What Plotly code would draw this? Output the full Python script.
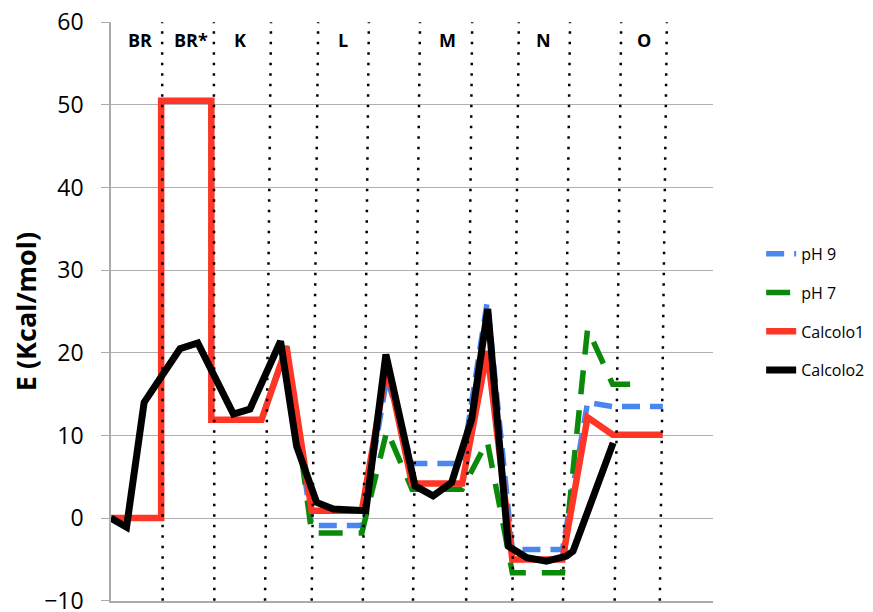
import plotly.graph_objects as go

# ---- data (reaction coordinate units, energies in kcal/mol) ----
x_ph9 = [0, 1, 1, 2, 2, 3, 3.5, 4, 5, 5.5, 6, 7, 7.5, 8, 9, 9.5, 10, 11]
y_ph9 = [0, 0, 50.5, 50.5, 11.9, 11.9, 20.5, -0.9, -0.9, 17.0, 6.6, 6.6, 26.2, -3.8, -3.8, 14.0, 13.5, 13.5]

x_ph7 = [0, 1, 1, 2, 2, 3, 3.5, 4, 5, 5.5, 6, 7, 7.5, 8, 9, 9.5, 10, 10.5]
y_ph7 = [0, 0, 50.5, 50.5, 11.9, 11.9, 20.8, -1.8, -1.8, 10.6, 3.5, 3.5, 9.3, -6.6, -6.6, 22.9, 16.2, 16.2]

x_calc1 = [0, 1, 1, 2, 2, 3, 3.5, 4, 5, 5.5, 6, 7, 7.5, 8, 9, 9.5, 10, 11]
y_calc1 = [0, 0, 50.5, 50.5, 11.9, 11.9, 20.7, 0.9, 0.9, 18.5, 4.2, 4.2, 20.2, -5.0, -5.0, 12.2, 10.1, 10.1]

x_calc2 = [0, 0.31, 0.66, 1.375, 1.73, 2.44, 2.77, 3.38, 3.70, 4.10, 4.43, 5.0, 5.08, 5.48,
           6.06, 6.42, 6.79, 7.19, 7.51, 7.92, 8.29, 8.68, 9.08, 9.21, 10.01]
y_calc2 = [0, -1.1, 14.0, 20.5, 21.2, 12.6, 13.2, 21.4, 8.7, 1.9, 1.1, 1.1, 0.9, 19.8,
           3.9, 2.7, 4.3, 12.0, 25.3, -3.4, -4.8, -5.2, -4.6, -4.0, 9.1]

# dotted separators (bottom and top x of each line)
sep_bottom = [1.03, 2.06, 3.07, 4.00, 5.02, 6.02, 7.08, 8.00, 9.01, 10.04, 10.94]
sep_top = [1.02, 2.05, 3.19, 4.13, 5.14, 6.16, 7.20, 8.13, 9.15, 10.17, 11.08]

state_labels = ["BR", "BR*", "K", "L", "M", "N", "O"]
state_x = [0.57, 1.59, 2.58, 4.62, 6.70, 8.62, 10.62]
state_y = 57.9

y_ticks = [-10, 0, 10, 20, 30, 40, 50, 60]

fig = go.Figure()
fig.add_trace(go.Scatter(x=x_ph9, y=y_ph9, mode="lines", name="pH 9", legendgroup="a",
                         line=dict(color="#4a86f0", width=5.5, dash="18px,10px")))
fig.add_trace(go.Scatter(x=x_ph7, y=y_ph7, mode="lines", name="pH 7", legendgroup="b",
                         line=dict(color="#0a890a", width=5.5, dash="24px,16px")))
fig.add_trace(go.Scatter(x=x_calc1, y=y_calc1, mode="lines", name="Calcolo1", legendgroup="c",
                         line=dict(color="#ff3526", width=6.5)))
fig.add_trace(go.Scatter(x=x_calc2, y=y_calc2, mode="lines", name="Calcolo2", legendgroup="d",
                         line=dict(color="#000000", width=7)))

for xb, xt in zip(sep_bottom, sep_top):
    fig.add_shape(type="line", x0=xb, x1=xt, y0=-10, y1=60, xref="x", yref="y",
                  layer="above", line=dict(color="black", width=2.5, dash="2.5px,8px"))

for lab, lx in zip(state_labels, state_x):
    fig.add_annotation(x=lx, y=state_y, text=lab, showarrow=False,
                       font=dict(family="Open Sans", size=18, color="black", weight="bold"))

fig.update_layout(
    width=873, height=612,
    margin=dict(l=111, r=160, t=22, b=11, autoexpand=False),
    paper_bgcolor="white", plot_bgcolor="white",
    font=dict(family="Open Sans", color="black"),
    legend=dict(x=1.08, y=0.629, xanchor="left", yanchor="top",
                font=dict(family="Open Sans", size=16, color="black"),
                tracegroupgap=15, bgcolor="rgba(0,0,0,0)"),
    showlegend=True,
)
fig.update_xaxes(range=[0, 12], showgrid=False, zeroline=False, showticklabels=False,
                 ticks="", showline=True, linecolor="#ababab", linewidth=1.5)
fig.update_yaxes(range=[-10.03, 60.03], tickvals=y_ticks, showgrid=True, gridcolor="#b0b0b0",
                 gridwidth=1.3, zeroline=False, showline=True, linecolor="#ababab",
                 linewidth=1.5, ticks="outside", ticklen=8, tickcolor="#ababab",
                 tickwidth=1.3, ticklabelstandoff=13, ticklabeloverflow="allow",
                 tickfont=dict(family="Open Sans", size=23, color="black"),
                 title=dict(text="E (Kcal/mol)", standoff=0,
                            font=dict(family="Open Sans", size=27, color="black", weight="bold")))

fig.write_html("out.html")
